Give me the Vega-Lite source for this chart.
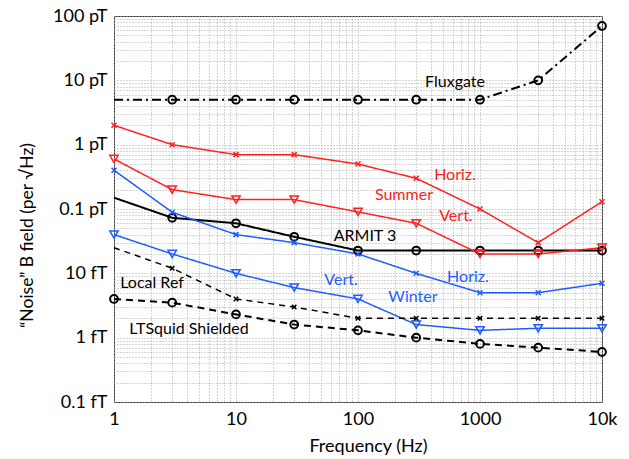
{
  "$schema": "https://vega.github.io/schema/vega-lite/v6.json",
  "width": 488,
  "height": 386,
  "autosize": {"type": "none"},
  "padding": {"left": 114, "top": 16, "right": 27, "bottom": 57},
  "background": "white",
  "config": {
    "font": "Lato",
    "view": {"stroke": "#333", "strokeWidth": 1},
    "legend": {"disable": true},
    "axis": {"labelFont": "Lato", "titleFont": "Lato", "labelColor": "#000", "titleColor": "#000", "labelFontSize": 18, "titleFontSize": 18, "titleFontWeight": "normal", "domain": false, "ticks": false, "gridColor": "#aaa", "gridDash": [1, 2], "gridWidth": 1}
  },
  "datasets": {
    "series": [
      {"s": "Fluxgate", "f": 1, "v": 5000},
      {"s": "Fluxgate", "f": 3, "v": 5000},
      {"s": "Fluxgate", "f": 10, "v": 5000},
      {"s": "Fluxgate", "f": 30, "v": 5000},
      {"s": "Fluxgate", "f": 100, "v": 5000},
      {"s": "Fluxgate", "f": 300, "v": 5000},
      {"s": "Fluxgate", "f": 1000, "v": 5000},
      {"s": "Fluxgate", "f": 3000, "v": 10000},
      {"s": "Fluxgate", "f": 10000, "v": 70000},
      {"s": "Summer Horiz.", "f": 1, "v": 2000},
      {"s": "Summer Horiz.", "f": 3, "v": 1000},
      {"s": "Summer Horiz.", "f": 10, "v": 700},
      {"s": "Summer Horiz.", "f": 30, "v": 700},
      {"s": "Summer Horiz.", "f": 100, "v": 500},
      {"s": "Summer Horiz.", "f": 300, "v": 300},
      {"s": "Summer Horiz.", "f": 1000, "v": 100},
      {"s": "Summer Horiz.", "f": 3000, "v": 30},
      {"s": "Summer Horiz.", "f": 10000, "v": 130},
      {"s": "Summer Vert.", "f": 1, "v": 600},
      {"s": "Summer Vert.", "f": 3, "v": 200},
      {"s": "Summer Vert.", "f": 10, "v": 140},
      {"s": "Summer Vert.", "f": 30, "v": 140},
      {"s": "Summer Vert.", "f": 100, "v": 90},
      {"s": "Summer Vert.", "f": 300, "v": 60},
      {"s": "Summer Vert.", "f": 1000, "v": 20},
      {"s": "Summer Vert.", "f": 3000, "v": 20},
      {"s": "Summer Vert.", "f": 10000, "v": 25},
      {"s": "ARMIT 3", "f": 1, "v": 150},
      {"s": "ARMIT 3", "f": 3, "v": 73},
      {"s": "ARMIT 3", "f": 10, "v": 60},
      {"s": "ARMIT 3", "f": 30, "v": 37},
      {"s": "ARMIT 3", "f": 100, "v": 22.6},
      {"s": "ARMIT 3", "f": 300, "v": 22.6},
      {"s": "ARMIT 3", "f": 1000, "v": 22.6},
      {"s": "ARMIT 3", "f": 3000, "v": 22.6},
      {"s": "ARMIT 3", "f": 10000, "v": 22.6},
      {"s": "Winter Horiz.", "f": 1, "v": 400},
      {"s": "Winter Horiz.", "f": 3, "v": 89},
      {"s": "Winter Horiz.", "f": 10, "v": 40},
      {"s": "Winter Horiz.", "f": 30, "v": 30},
      {"s": "Winter Horiz.", "f": 100, "v": 20},
      {"s": "Winter Horiz.", "f": 300, "v": 10},
      {"s": "Winter Horiz.", "f": 1000, "v": 5},
      {"s": "Winter Horiz.", "f": 3000, "v": 5},
      {"s": "Winter Horiz.", "f": 10000, "v": 7},
      {"s": "Winter Vert.", "f": 1, "v": 40},
      {"s": "Winter Vert.", "f": 3, "v": 20},
      {"s": "Winter Vert.", "f": 10, "v": 10},
      {"s": "Winter Vert.", "f": 30, "v": 6},
      {"s": "Winter Vert.", "f": 100, "v": 4},
      {"s": "Winter Vert.", "f": 300, "v": 1.6},
      {"s": "Winter Vert.", "f": 1000, "v": 1.3},
      {"s": "Winter Vert.", "f": 3000, "v": 1.4},
      {"s": "Winter Vert.", "f": 10000, "v": 1.4},
      {"s": "Local Ref", "f": 1, "v": 25},
      {"s": "Local Ref", "f": 3, "v": 12},
      {"s": "Local Ref", "f": 10, "v": 4},
      {"s": "Local Ref", "f": 30, "v": 3},
      {"s": "Local Ref", "f": 100, "v": 2},
      {"s": "Local Ref", "f": 300, "v": 2},
      {"s": "Local Ref", "f": 1000, "v": 2},
      {"s": "Local Ref", "f": 3000, "v": 2},
      {"s": "Local Ref", "f": 10000, "v": 2},
      {"s": "LTSquid Shielded", "f": 1, "v": 4},
      {"s": "LTSquid Shielded", "f": 3, "v": 3.5},
      {"s": "LTSquid Shielded", "f": 10, "v": 2.3},
      {"s": "LTSquid Shielded", "f": 30, "v": 1.6},
      {"s": "LTSquid Shielded", "f": 100, "v": 1.3},
      {"s": "LTSquid Shielded", "f": 300, "v": 1.0},
      {"s": "LTSquid Shielded", "f": 1000, "v": 0.8},
      {"s": "LTSquid Shielded", "f": 3000, "v": 0.7},
      {"s": "LTSquid Shielded", "f": 10000, "v": 0.6}
    ],
    "labels": [
      {"t": "Fluxgate", "s": "Fluxgate", "f": 624, "v": 9350},
      {"t": "Horiz.", "s": "Summer Horiz.", "f": 624, "v": 334},
      {"t": "Summer", "s": "Summer Vert.", "f": 238, "v": 163},
      {"t": "Vert.", "s": "Summer Vert.", "f": 635, "v": 76.7},
      {"t": "ARMIT 3", "s": "ARMIT 3", "f": 114, "v": 37.4},
      {"t": "Vert.", "s": "Winter Vert.", "f": 72.6, "v": 8.0},
      {"t": "Horiz.", "s": "Winter Horiz.", "f": 797, "v": 8.9},
      {"t": "Winter", "s": "Winter Vert.", "f": 282, "v": 4.35},
      {"t": "Local Ref", "s": "Local Ref", "f": 2.05, "v": 7.2},
      {"t": "LTSquid Shielded", "s": "LTSquid Shielded", "f": 4.12, "v": 1.38}
    ]
  },
  "encoding": {
    "x": {
      "field": "f", "type": "quantitative",
      "scale": {"type": "log", "domain": [1, 10000], "nice": false},
      "axis": {
        "title": "Frequency (Hz)",
        "values": [1,2,3,4,5,6,7,8,9,10,20,30,40,50,60,70,80,90,100,200,300,400,500,600,700,800,900,1000,2000,3000,4000,5000,6000,7000,8000,9000,10000],
        "labelExpr": "datum.value == 1 ? '1' : datum.value == 10 ? '10' : datum.value == 100 ? '100' : datum.value == 1000 ? '1000' : datum.value == 10000 ? '10k' : ''",
        "labelPadding": 8,
        "titlePadding": 9,
        "titleX": 254,
        "labelFlush": false
      }
    },
    "y": {
      "field": "v", "type": "quantitative",
      "scale": {"type": "log", "domain": [0.1, 100000], "nice": false},
      "axis": {
        "title": "“Noise” B field (per √Hz)",
        "values": [0.1,0.2,0.3,0.4,0.5,0.6,0.7,0.8,0.9,1,2,3,4,5,6,7,8,9,10,20,30,40,50,60,70,80,90,100,200,300,400,500,600,700,800,900,1000,2000,3000,4000,5000,6000,7000,8000,9000,10000,20000,30000,40000,50000,60000,70000,80000,90000,100000],
        "labelExpr": "datum.value == 0.1 ? '0.1 fT' : datum.value == 1 ? '1 fT' : datum.value == 10 ? '10 fT' : datum.value == 100 ? '0.1 pT' : datum.value == 1000 ? '1 pT' : datum.value == 10000 ? '10 pT' : datum.value == 100000 ? '100 pT' : ''",
        "labelPadding": 7,
        "titleFontSize": 17.5,
        "titleX": -87,
        "titleY": 219,
        "titleBaseline": "middle",
        "labelFlush": false
      }
    },
    "color": {
      "field": "s", "type": "nominal",
      "scale": {
        "domain": ["Fluxgate", "Summer Horiz.", "Summer Vert.", "ARMIT 3", "Winter Horiz.", "Winter Vert.", "Local Ref", "LTSquid Shielded"],
        "range": ["#000000", "#ff2020", "#ff2020", "#000000", "#1f5cff", "#1f5cff", "#000000", "#000000"]
      }
    }
  },
  "layer": [
    {
      "data": {"name": "series"},
      "transform": [{"filter": "datum.s == 'Fluxgate' || datum.s == 'ARMIT 3' || datum.s == 'LTSquid Shielded'"}],
      "mark": {"type": "line", "strokeWidth": 2},
      "encoding": {
        "strokeDash": {
          "field": "s", "type": "nominal",
          "scale": {
            "domain": ["Fluxgate", "Summer Horiz.", "Summer Vert.", "ARMIT 3", "Winter Horiz.", "Winter Vert.", "Local Ref", "LTSquid Shielded"],
            "range": [[9, 4, 2, 4], [1, 0], [1, 0], [1, 0], [1, 0], [1, 0], [6, 5], [7, 5]]
          }
        }
      }
    },
    {
      "data": {"name": "series"},
      "transform": [{"filter": "!(datum.s == 'Fluxgate' || datum.s == 'ARMIT 3' || datum.s == 'LTSquid Shielded')"}],
      "mark": {"type": "line", "strokeWidth": 1.5},
      "encoding": {
        "strokeDash": {
          "field": "s", "type": "nominal",
          "scale": {
            "domain": ["Fluxgate", "Summer Horiz.", "Summer Vert.", "ARMIT 3", "Winter Horiz.", "Winter Vert.", "Local Ref", "LTSquid Shielded"],
            "range": [[9, 4, 2, 4], [1, 0], [1, 0], [1, 0], [1, 0], [1, 0], [6, 5], [7, 5]]
          }
        }
      }
    },
    {
      "data": {"name": "series"},
      "transform": [{"filter": "(datum.s == 'Fluxgate' || datum.s == 'ARMIT 3' || datum.s == 'LTSquid Shielded') && !(datum.f == 1 && datum.s != 'LTSquid Shielded')"}],
      "mark": {"type": "point", "shape": "circle", "filled": false, "strokeWidth": 2, "size": 60, "opacity": 1}
    },
    {
      "data": {"name": "series"},
      "transform": [{"filter": "datum.s == 'Summer Vert.' || datum.s == 'Winter Vert.'"}],
      "mark": {"type": "point", "shape": "triangle-down", "filled": false, "strokeWidth": 1.5, "size": 70, "opacity": 1}
    },
    {
      "data": {"name": "series"},
      "transform": [{"filter": "datum.s == 'Summer Horiz.' || datum.s == 'Winter Horiz.'"}],
      "mark": {"type": "point", "shape": "M-1,-1L1,1M1,-1L-1,1", "filled": false, "strokeWidth": 1.5, "size": 25, "opacity": 1}
    },
    {
      "data": {"name": "series"},
      "transform": [{"filter": "datum.s == 'Local Ref' && datum.f > 1"}],
      "mark": {"type": "point", "shape": "M-1,-1L1,1M1,-1L-1,1", "filled": false, "strokeWidth": 1.5, "size": 20, "opacity": 1}
    },
    {
      "data": {"name": "labels"},
      "mark": {"type": "text", "font": "Lato", "fontSize": 16, "align": "center", "baseline": "middle"},
      "encoding": {
        "text": {"field": "t", "type": "nominal"}
      }
    }
  ]
}
